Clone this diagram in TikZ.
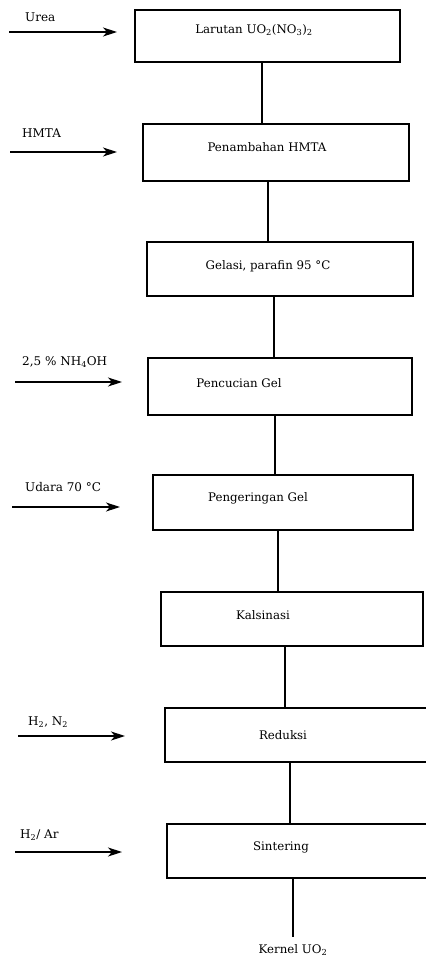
\documentclass[tikz,border=0pt]{standalone}
\usepackage{fontspec}
\setmainfont{DejaVu Serif}
\usetikzlibrary{arrows.meta}
\begin{document}
\begin{tikzpicture}[x=1pt,y=-1pt,
  stepbox/.style={draw=black,line width=1.2pt,inner sep=0pt},
  boxtext/.style={font=\fontsize{11.8}{13}\selectfont,inner sep=0pt,anchor=center},
  inlabel/.style={font=\fontsize{12}{14}\selectfont,inner sep=0pt,anchor=west},
  feed/.style={line width=1.2pt,-{Stealth[length=14pt,width=9pt,inset=4pt]}},
  link/.style={line width=1.2pt}]
\useasboundingbox (0,0) rectangle (426,962);
\clip (0,0) rectangle (426,962);
% boxes
\node[stepbox,minimum width=265pt,minimum height=52pt] (b1) at (267.5,36) {};
\node[stepbox,minimum width=266pt,minimum height=57pt] (b2) at (276,152.5) {};
\node[stepbox,minimum width=266pt,minimum height=54pt] (b3) at (280,269) {};
\node[stepbox,minimum width=264pt,minimum height=57pt] (b4) at (280,386.5) {};
\node[stepbox,minimum width=260pt,minimum height=55pt] (b5) at (283,502.5) {};
\node[stepbox,minimum width=262pt,minimum height=54pt] (b6) at (292,619) {};
\node[stepbox,minimum width=275pt,minimum height=54pt] (b7) at (302.5,735) {};
\node[stepbox,minimum width=273pt,minimum height=54pt] (b8) at (303.5,851) {};
% box texts
\node[boxtext] (t1) at (254,30) {Larutan UO\textsubscript{2}(NO\textsubscript{3})\textsubscript{2}};
\node[boxtext] (t2) at (267,147) {Penambahan HMTA};
\node[boxtext] (t3) at (268,266) {Gelasi, parafin 95 °C};
\node[boxtext] (t4) at (239,383) {Pencucian Gel};
\node[boxtext] (t5) at (258,498) {Pengeringan Gel};
\node[boxtext] (t6) at (263,615) {Kalsinasi};
\node[boxtext] (t7) at (283,735) {Reduksi};
\node[boxtext] (t8) at (281,847) {Sintering};
% vertical connectors
\draw[link] (b1.south -| 262,0) -- (b2.north -| 262,0);
\draw[link] (b2.south -| 268,0) -- (b3.north -| 268,0);
\draw[link] (b3.south -| 274,0) -- (b4.north -| 274,0);
\draw[link] (b4.south -| 275,0) -- (b5.north -| 275,0);
\draw[link] (b5.south -| 278,0) -- (b6.north -| 278,0);
\draw[link] (b6.south -| 285,0) -- (b7.north -| 285,0);
\draw[link] (b7.south -| 290,0) -- (b8.north -| 290,0);
\coordinate (kend) at (293,937);
\draw[link] (b8.south -| kend) -- (kend);
\node[boxtext] (kern) at (293,950) {Kernel UO\textsubscript{2}};
% feed arrows
\coordinate (f1s) at (9,32);   \coordinate (f1e) at (117,32);
\coordinate (f2s) at (10,152); \coordinate (f2e) at (117,152);
\coordinate (f3s) at (15,382); \coordinate (f3e) at (122,382);
\coordinate (f4s) at (12,507); \coordinate (f4e) at (120,507);
\coordinate (f5s) at (18,736); \coordinate (f5e) at (125,736);
\coordinate (f6s) at (15,852); \coordinate (f6e) at (122,852);
\draw[feed] (f1s) -- (f1e);
\draw[feed] (f2s) -- (f2e);
\draw[feed] (f3s) -- (f3e);
\draw[feed] (f4s) -- (f4e);
\draw[feed] (f5s) -- (f5e);
\draw[feed] (f6s) -- (f6e);
% feed labels
\node[inlabel] (l1) at (25,17) {Urea};
\node[inlabel] (l2) at (22,133) {HMTA};
\node[inlabel] (l3) at (22,362) {2,5 \% NH\textsubscript{4}OH};
\node[inlabel] (l4) at (25,487) {Udara 70 °C};
\node[inlabel] (l5) at (28,722) {H\textsubscript{2}, N\textsubscript{2}};
\node[inlabel] (l6) at (20,835) {H\textsubscript{2}/ Ar};
\end{tikzpicture}
\end{document}
